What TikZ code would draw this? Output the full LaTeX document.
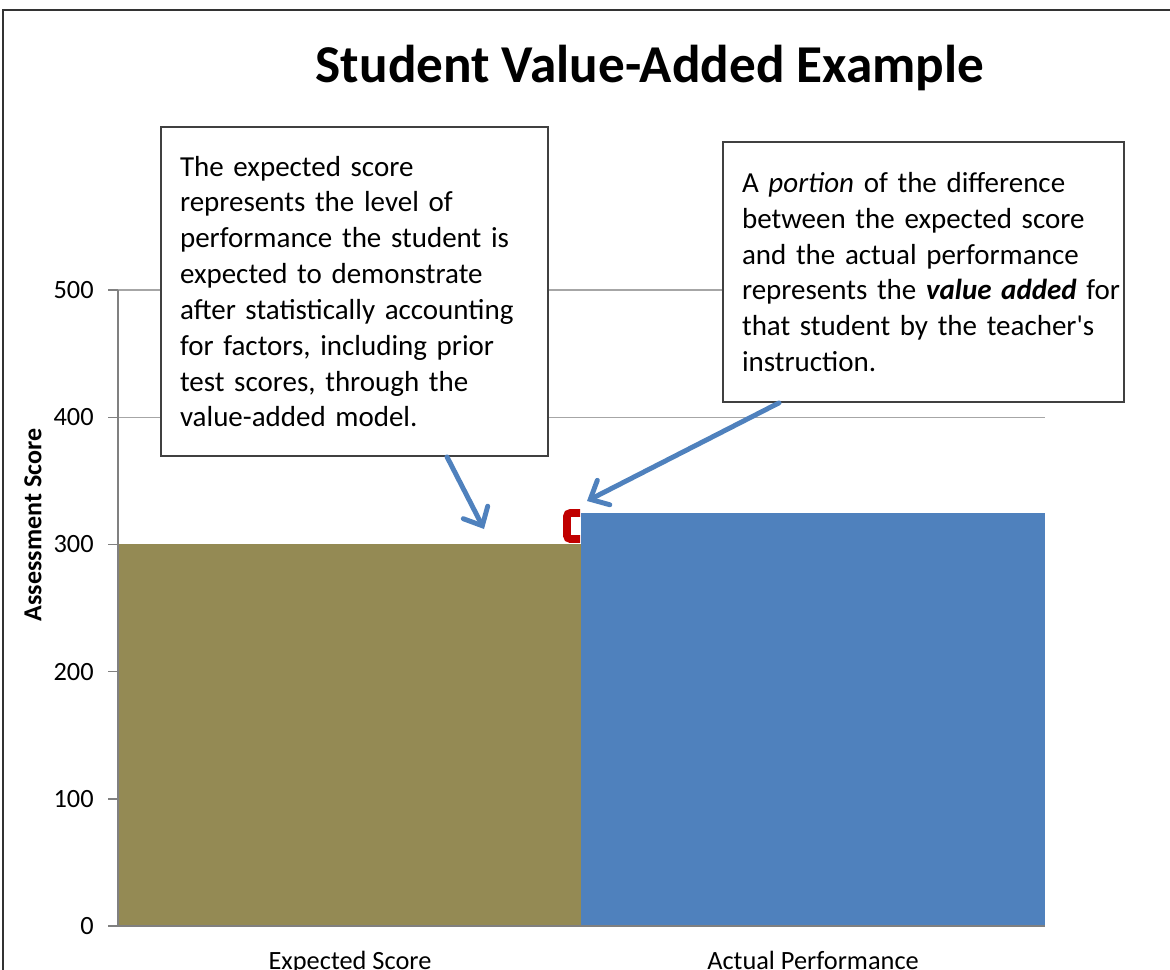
\documentclass[tikz,border=0pt]{standalone}
\usepackage{fontspec}
\setmainfont{Carlito}[Ligatures=TeXOff]
\usetikzlibrary{positioning, arrows.meta}
\usetikzlibrary{calc}
\definecolor{olivebar}{HTML}{948A54}
\definecolor{bluebar}{HTML}{4F81BD}
\definecolor{bracketred}{HTML}{C00000}
\definecolor{gridgray}{HTML}{A6A6A6}
\tikzstyle{callout} = [rectangle, draw=black!75, line width=1pt, fill=white, align=left, inner xsep=0.38cm, font=\fontsize{16.5}{20.4}\selectfont]
\tikzstyle{arrow} = [draw=bluebar, line width=2.8pt, line cap=round, -{Straight Barb[length=3mm,width=5.5mm,line cap=round]}]
\tikzstyle{gridline} = [gridgray, line width=0.6pt]
\tikzstyle{axisline} = [gray, line width=0.8pt]
\tikzstyle{ticklabel} = [anchor=east, inner sep=0pt, font=\fontsize{15}{18}\selectfont]
\tikzstyle{catlabel} = [anchor=base, inner sep=0pt, font=\fontsize{15}{18}\selectfont]

\begin{document}
\begin{tikzpicture}[x=0.02cm, y=-0.02cm]
		\useasboundingbox (0,0) rectangle (1170,970);
		%外框
		\draw [black!80, line width=1pt] (3,970) -- (3,10) -- (1170,10);
		
		%网格线和刻度
		\foreach \v in {0,100,...,500} {
			\draw [gridline] (118,{926-1.272*\v}) -- (1045,{926-1.272*\v});
			\draw [axisline] (108,{926-1.272*\v}) -- (118,{926-1.272*\v});
			\node [ticklabel] at (94,{926-1.272*\v}) {\v};
		}
		
		%柱
		\fill [olivebar] (118,926) rectangle (581,544.4);
		\fill [bluebar] (581,926) rectangle (1045,512.6);
		\draw [axisline] (118,290) -- (118,926) -- (1045,926);
		\draw [bracketred, line width=4.5pt, rounded corners=2pt] (580,513) -- (567,513) -- (567,539) -- (580,539);
		
		%文字
		\node (title1) [anchor=base, font=\bfseries\fontsize{30.3}{36}\selectfont] at (650,82) {Student Value-Added Example};
		\node (ylabel1) [rotate=90, font=\bfseries\fontsize{14.8}{18}\selectfont] at (33,525) {Assessment Score};
		\node (cat1) [catlabel] at (350,969) {Expected Score};
		\node (cat2) [catlabel] at (813,969) {Actual Performance};
		
		%说明框
		\node (box1) [callout, text width=6.98cm, minimum height=6.58cm] at (354.5,291.5) {The expected score\\ represents the level of\\ performance the student is\\ expected to demonstrate\\ after statistically accounting\\ for factors, including prior\\ test scores, through the\\ value-added model.};
		\node (box2) [callout, text width=7.26cm, minimum height=5.2cm] at (923.5,272) {A \emph{portion} of the difference\\ between the expected score\\ and the actual performance\\ \mbox{represents the \textbf{\emph{value added}} for}\\ that student by the teacher's\\ instruction.};
		
		%箭头
		\coordinate (tip1) at (484,529);
		\coordinate (tip2) at (587,501);
		\draw [arrow] ([xshift=1.85cm]box1.south) -- (tip1);
		\draw [arrow] ([xshift=-2.89cm]box2.south) -- (tip2);
	\end{tikzpicture}
\end{document}
